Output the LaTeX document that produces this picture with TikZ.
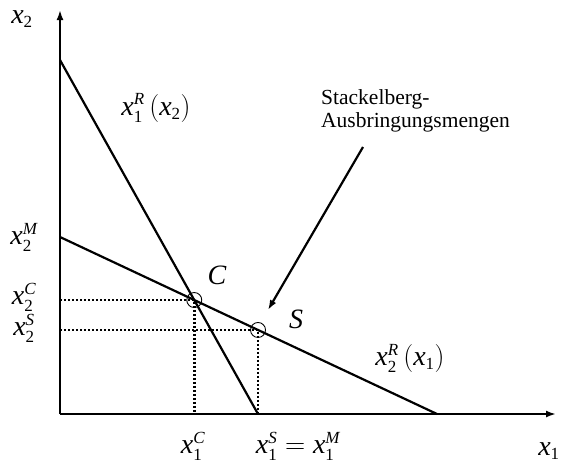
\documentclass[tikz,border=0pt]{standalone}
\usepackage{fix-cm}
\usepackage{fontspec}
\setmainfont{Liberation Serif}
\DeclareMathSizes{28}{28}{17}{12}
\usetikzlibrary{arrows.meta}
\newcommand{\xv}[2]{\mathit{x}_{\mathrm{#1}}^{\mathit{#2}}}

\begin{document}
\begin{tikzpicture}[x=1pt,y=-1pt,
  axis/.style={line width=2.2pt,-{Latex[length=10pt,width=7pt]}},
  curve/.style={line width=2.2pt},
  guide/.style={line width=2.5pt,dash pattern=on 2.2pt off 1.8pt},
  ring/.style={line width=0.9pt},
  lbl/.style={inner sep=0pt,font=\fontsize{28}{32}\selectfont},
  txt/.style={inner sep=0pt,align=left,font=\fontsize{21.5}{23}\selectfont}]
\useasboundingbox (0,0) rectangle (562,463);
% axes
\coordinate (O) at (60,414);
\coordinate (ytip) at (60,10);
\coordinate (xtip) at (556,414);
\draw[axis] (O)--(ytip);
\draw[axis] (O)--(xtip);
% reaction functions
\coordinate (r1a) at (60,60);
\coordinate (r1b) at (258,414);
\coordinate (r2a) at (60,237);
\coordinate (r2b) at (437,414);
\draw[curve] (r1a)--(r1b);
\draw[curve] (r2a)--(r2b);
\coordinate (C) at (intersection of r1a--r1b and r2a--r2b);
\coordinate (Sup) at (258,200);
\coordinate (S) at (intersection of r2a--r2b and r1b--Sup);
\draw[guide] (O |- C)--(C)--(C |- O);
\draw[guide] (O |- S)--(S)--(S |- O);
\draw[ring] (C) circle[radius=7.5pt];
\draw[ring] (S) circle[radius=7.5pt];
% labels
\node[lbl] (lx2) at (22,19) {$\mathit{x}_{\mathrm{2}}$};
\node[lbl] (lx1) at (549,451) {$\mathit{x}_{\mathrm{1}}$};
\node[lbl] (lr1) at (156,108) {$\xv{1}{R}\,\mathrm{(}\mathit{x}_{\mathrm{2}}\mathrm{)}$};
\node[lbl] (lr2) at (410,358) {$\xv{2}{R}\,\mathrm{(}\mathit{x}_{\mathrm{1}}\mathrm{)}$};
\node[lbl] (lx2M) at (24,237) {$\xv{2}{M}$};
\node[lbl] (lx2C) at (24,297) {$\xv{2}{C}$};
\node[lbl] (lx2S) at (24,328) {$\xv{2}{S}$};
\node[lbl] (lx1C) at (193,446) {$\xv{1}{C}$};
\node[lbl] (lx1S) at (298,446) {$\xv{1}{S}=\xv{1}{M}$};
\node[lbl] (lC) at (217,275) {$\mathit{C}$};
\node[lbl] (lS) at (296,319) {$\mathit{S}$};
\node[txt,anchor=north west] (stk) at (321,89) {Stackelberg-\\Ausbringungsmengen};
\coordinate (stktail) at (363,147);
\coordinate (stkhead) at (268,310);
\draw[axis] (stktail)--(stkhead);
\end{tikzpicture}
\end{document}
